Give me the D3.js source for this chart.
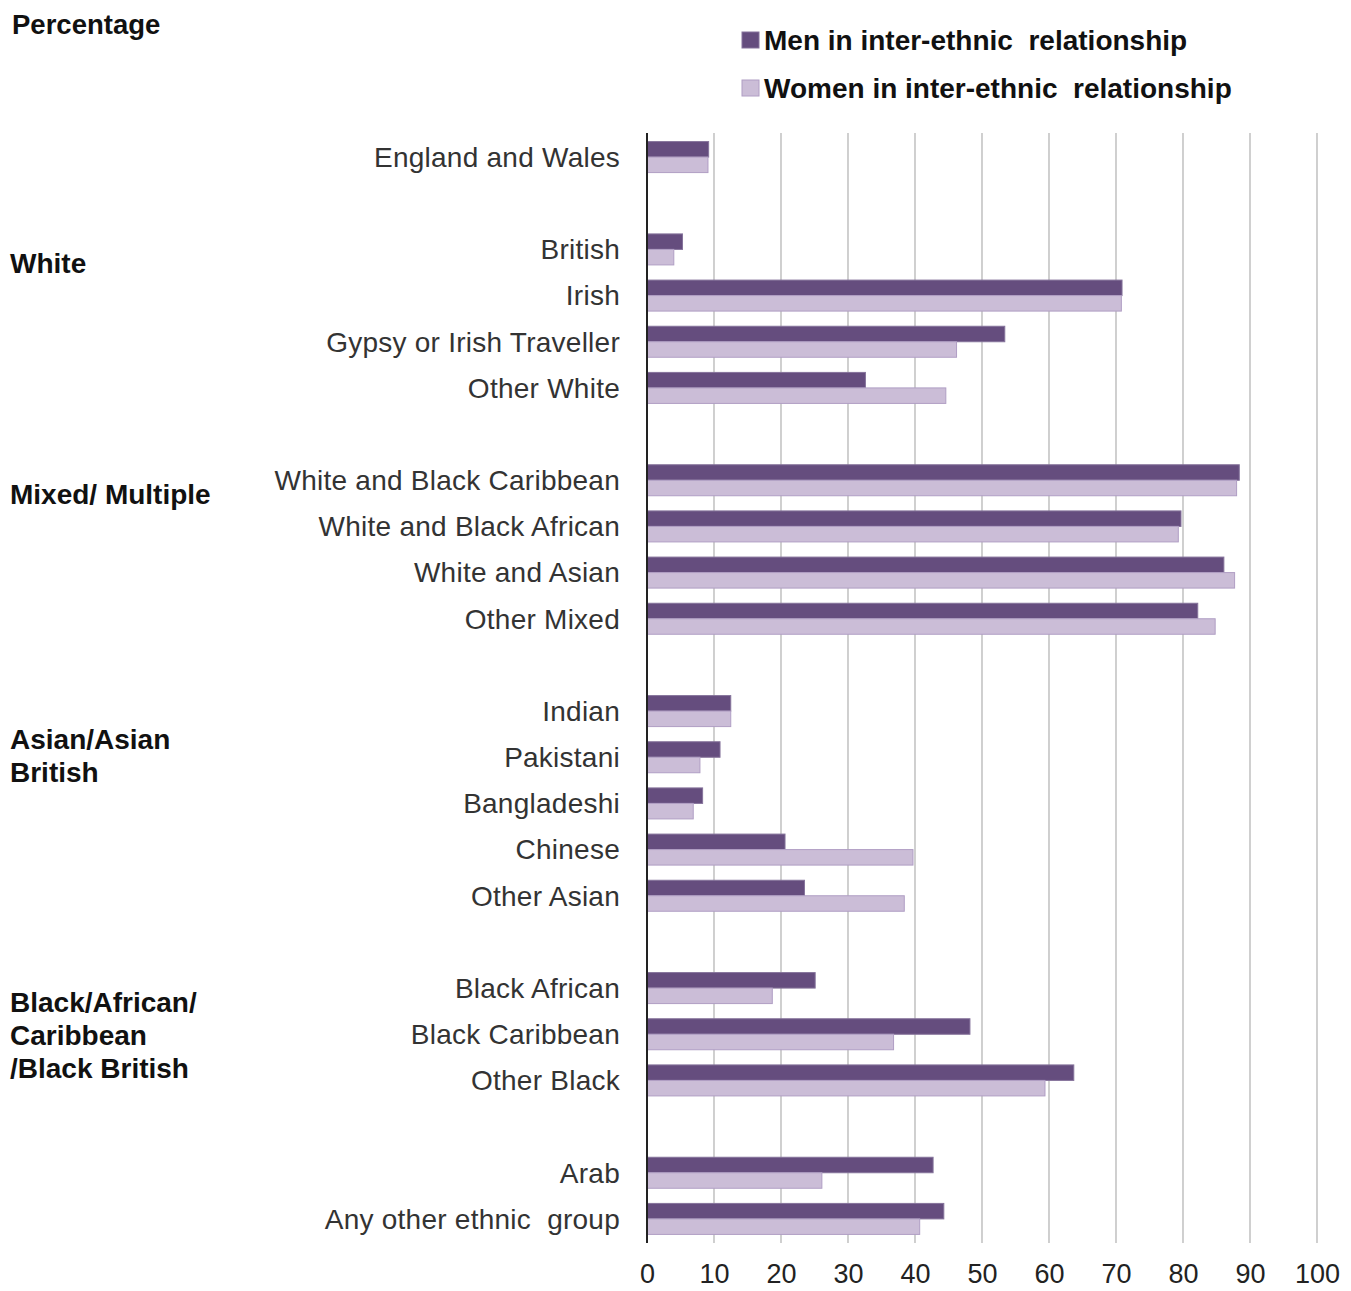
<!DOCTYPE html>
<html>
<head>
<meta charset="utf-8">
<script src="https://cdn.jsdelivr.net/npm/d3@7"></script>
<style>
  html, body { margin: 0; padding: 0; background: #fff; }
  svg { display: block; font-family: "Liberation Sans", Arial, sans-serif; }
</style>
</head>
<body>
<svg id="chart" width="1351" height="1291"></svg>
<script>
// ---- Data ----
// slots (null = blank spacer row between groups)
const categories = [
  "England and Wales", null,
  "British", "Irish", "Gypsy or Irish Traveller", "Other White", null,
  "White and Black Caribbean", "White and Black African", "White and Asian", "Other Mixed", null,
  "Indian", "Pakistani", "Bangladeshi", "Chinese", "Other Asian", null,
  "Black African", "Black Caribbean", "Other Black", null,
  "Arab", "Any other ethnic  group"
];
const menValues = [
  9.2, null,
  5.3, 70.9, 53.4, 32.6, null,
  88.4, 79.7, 86.1, 82.2, null,
  12.5, 10.9, 8.3, 20.6, 23.5, null,
  25.1, 48.2, 63.7, null,
  42.7, 44.3
];
const womenValues = [
  9.1, null,
  4.0, 70.8, 46.2, 44.6, null,
  88.0, 79.3, 87.7, 84.8, null,
  12.5, 7.9, 6.9, 39.7, 38.4, null,
  18.7, 36.8, 59.4, null,
  26.1, 40.7
];
const groupLabels = [
  { lines: ["White"], slot: 2.3 },
  { lines: ["Mixed/ Multiple"], slot: 7.3 },
  { lines: ["Asian/Asian", "British"], slot: 12.6 },
  { lines: ["Black/African/", "Caribbean", "/Black British"], slot: 18.3 }
];
const xTicks = [0, 10, 20, 30, 40, 50, 60, 70, 80, 90, 100];
const seriesNames = ["Men in inter-ethnic  relationship", "Women in inter-ethnic  relationship"];
const yAxisTitle = "Percentage";

// ---- Layout ----
const svg = d3.select("#chart");
const plotLeft = 647, plotRight = 1317, plotTop = 134, plotBottom = 1242;
const menColor = "#654d7e", menStroke = "#85739b";
const womenColor = "#cbbdd7", womenStroke = "#b09ec4";

const x = d3.scaleLinear().domain([0, 100]).range([plotLeft, plotRight]);
const slots = d3.range(categories.length);
const y = d3.scaleBand().domain(slots).range([plotTop, plotBottom]).padding(0);
const barH = 15.5;

// gridlines
svg.append("g").selectAll("line").data(xTicks.filter(d => d > 0)).join("line")
  .attr("x1", d => x(d)).attr("x2", d => x(d))
  .attr("y1", plotTop - 1).attr("y2", plotBottom + 1)
  .attr("stroke", "#c4c4c4").attr("stroke-width", 1.6);

// x axis tick labels via d3 axis
const xAxis = d3.axisBottom(x).tickValues(xTicks).tickSize(0).tickPadding(0);
const gx = svg.append("g").attr("transform", `translate(0,${plotBottom + 22})`).call(xAxis);
gx.select(".domain").remove();
gx.selectAll("text")
  .attr("dy", "0.71em")
  .attr("font-size", 27)
  .attr("font-family", "Liberation Sans, Arial, sans-serif")
  .attr("fill", "#222");

// bars
const rows = slots.filter(i => categories[i] !== null);
const center = i => y(i) + y.bandwidth() / 2;

svg.append("g").selectAll("rect").data(rows).join("rect")
  .attr("x", x(0)).attr("y", i => center(i) - barH)
  .attr("width", i => x(menValues[i]) - x(0)).attr("height", barH)
  .attr("fill", menColor).attr("stroke", menStroke).attr("stroke-width", 1);

svg.append("g").selectAll("rect").data(rows).join("rect")
  .attr("x", x(0)).attr("y", i => center(i))
  .attr("width", i => x(womenValues[i]) - x(0)).attr("height", barH)
  .attr("fill", womenColor).attr("stroke", womenStroke).attr("stroke-width", 1);

// axis line
svg.append("line")
  .attr("x1", x(0)).attr("x2", x(0))
  .attr("y1", plotTop - 1).attr("y2", plotBottom + 1)
  .attr("stroke", "#222").attr("stroke-width", 2);

// category labels
svg.append("g").selectAll("text").data(rows).join("text")
  .attr("x", plotLeft - 27).attr("y", i => center(i))
  .attr("dy", "0.35em")
  .attr("text-anchor", "end")
  .attr("font-size", 28)
  .attr("letter-spacing", 0.25)
  .attr("fill", "#333")
  .style("white-space", "pre")
  .text(i => categories[i]);

// group labels
const lineH = 33;
groupLabels.forEach(g => {
  const t = svg.append("text")
    .attr("x", 10)
    .attr("font-size", 28).attr("font-weight", "bold").attr("fill", "#111");
  g.lines.forEach((ln, k) => {
    t.append("tspan").attr("x", 10)
      .attr("y", center(0) + (g.slot) * y.bandwidth() + k * lineH)
      .attr("dy", "0.35em")
      .text(ln);
  });
});

// y axis title
svg.append("text").attr("x", 12).attr("y", 34)
  .attr("font-size", 27.5).attr("font-weight", "bold").attr("fill", "#111")
  .text(yAxisTitle);

// legend
const legend = svg.append("g").attr("transform", "translate(742,0)");
const legColors = [[menColor, menStroke], [womenColor, womenStroke]];
seriesNames.forEach((name, k) => {
  const cy = 40 + k * 48;
  legend.append("rect").attr("x", 0).attr("y", cy - 8).attr("width", 17).attr("height", 16)
    .attr("fill", legColors[k][0]).attr("stroke", legColors[k][1]).attr("stroke-width", 1);
  legend.append("text").attr("x", 22).attr("y", cy).attr("dy", "0.35em")
    .attr("font-size", 28).attr("font-weight", "bold").attr("fill", "#111")
    .style("white-space", "pre")
    .text(name);
});
</script>
</body>
</html>
